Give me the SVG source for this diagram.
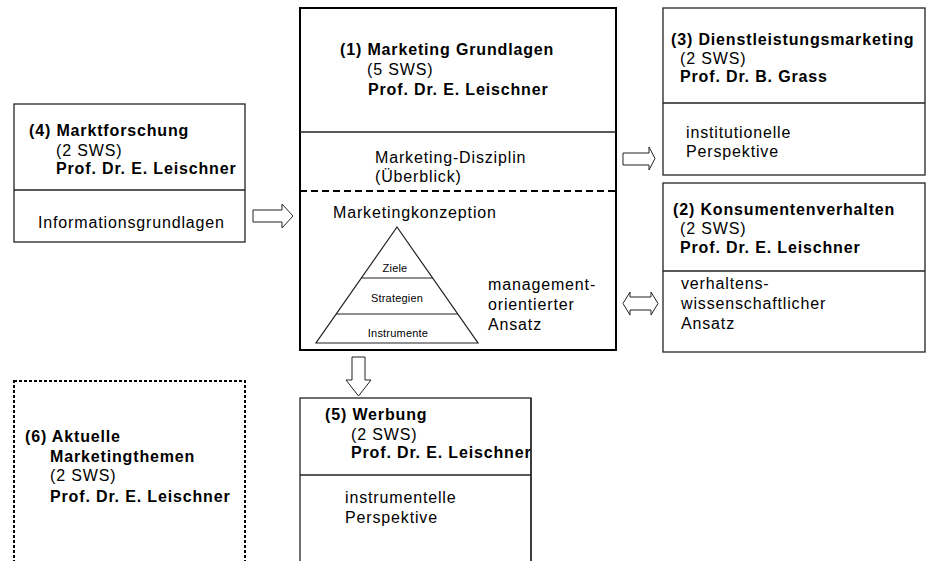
<svg xmlns="http://www.w3.org/2000/svg" width="931" height="561" viewBox="0 0 931 561">
<style>
  text { font-family: "Liberation Sans", Arial, sans-serif; font-size: 16px; letter-spacing: 0.85px; fill: #000; }
  .b { font-weight: bold; }
  .s { font-size: 11px; letter-spacing: 0.2px; }
  .box { fill: #fff; stroke: #222; stroke-width: 1.3; }
  .main { fill: #fff; stroke: #000; stroke-width: 2; }
  .div { stroke: #222; stroke-width: 1.3; }
  .arrow { fill: #fff; stroke: #222; stroke-width: 1; stroke-linejoin: miter; }
  .tri { fill: none; stroke: #222; stroke-width: 1.2; }
</style>
<rect width="931" height="561" fill="#fff"/>

<g id="node1">
  <rect class="main" x="300" y="8" width="316" height="342"/>
  <line class="div" x1="300" y1="132" x2="616" y2="132"/>
  <line x1="300" y1="191" x2="616" y2="191" stroke="#000" stroke-width="2.2" stroke-dasharray="7 4"/>
  <text x="340" y="55"><tspan class="b">(1) Marketing Grundlagen</tspan></text>
  <text x="367" y="75">(5 SWS)</text>
  <text x="368" y="95" class="b">Prof. Dr. E. Leischner</text>
  <text x="375" y="163">Marketing-Disziplin</text>
  <text x="375" y="182">(Überblick)</text>
  <text x="333" y="218">Marketingkonzeption</text>
  <polygon class="tri" points="397,227 478,343 316,343"/>
  <line class="tri" x1="361" y1="278" x2="433" y2="278"/>
  <line class="tri" x1="336" y1="314" x2="458" y2="314"/>
  <text x="395" y="272" class="s" text-anchor="middle">Ziele</text>
  <text x="397" y="302" class="s" text-anchor="middle">Strategien</text>
  <text x="398" y="337" class="s" text-anchor="middle">Instrumente</text>
  <text x="488" y="290">management-</text>
  <text x="488" y="310">orientierter</text>
  <text x="488" y="330">Ansatz</text>
</g>

<g id="node4">
  <rect class="box" x="14" y="104" width="231" height="138"/>
  <line class="div" x1="14" y1="190" x2="245" y2="190"/>
  <text x="29" y="136" class="b">(4) Marktforschung</text>
  <text x="56" y="156">(2 SWS)</text>
  <text x="56" y="174" class="b">Prof. Dr. E. Leischner</text>
  <text x="38" y="228">Informationsgrundlagen</text>
</g>

<g id="node3">
  <rect class="box" x="663" y="8" width="262" height="167"/>
  <line class="div" x1="663" y1="103" x2="925" y2="103"/>
  <text x="671" y="45" class="b">(3) Dienstleistungsmarketing</text>
  <text x="680" y="64">(2 SWS)</text>
  <text x="680" y="82" class="b">Prof. Dr. B. Grass</text>
  <text x="686" y="138">institutionelle</text>
  <text x="686" y="157">Perspektive</text>
</g>

<g id="node2">
  <rect class="box" x="663" y="183" width="262" height="169"/>
  <line class="div" x1="663" y1="271" x2="925" y2="271"/>
  <text x="673" y="215" class="b">(2) Konsumentenverhalten</text>
  <text x="680" y="234">(2 SWS)</text>
  <text x="680" y="253" class="b">Prof. Dr. E. Leischner</text>
  <text x="681" y="289">verhaltens-</text>
  <text x="681" y="309">wissenschaftlicher</text>
  <text x="681" y="329">Ansatz</text>
</g>

<g id="node5">
  <rect class="box" x="300" y="398" width="231" height="200"/>
  <line class="div" x1="300" y1="475" x2="531" y2="475"/>
  <text x="325" y="420" class="b">(5) Werbung</text>
  <text x="351" y="440">(2 SWS)</text>
  <text x="351" y="458" class="b">Prof. Dr. E. Leischner</text>
  <text x="345" y="503">instrumentelle</text>
  <text x="345" y="523">Perspektive</text>
  <line x1="531" y1="398" x2="531" y2="561" stroke="#222" stroke-width="1.3"/>
</g>

<g id="node6">
  <rect x="14" y="381" width="231" height="200" fill="none" stroke="#000" stroke-width="2" stroke-dasharray="3 2"/>
  <text x="25" y="442" class="b">(6) Aktuelle</text>
  <text x="50" y="462" class="b">Marketingthemen</text>
  <text x="50" y="481">(2 SWS)</text>
  <text x="50" y="502" class="b">Prof. Dr. E. Leischner</text>
</g>

<g id="connectors">
  <polygon class="arrow" points="253,210 282,210 282,204 293,216 282,228 282,222 253,222"/>
  <polygon class="arrow" points="623,153 649,153 649,147 655,158.5 649,170 649,165 623,165"/>
  <polygon class="arrow" points="623,303.5 630,292 630,297 651,297 651,292 658,303.5 651,315 651,310 630,310 630,315"/>
  <polygon class="arrow" points="352,357 365,357 365,380 371,380 358.5,396 346,380 352,380"/>
</g>
</svg>
